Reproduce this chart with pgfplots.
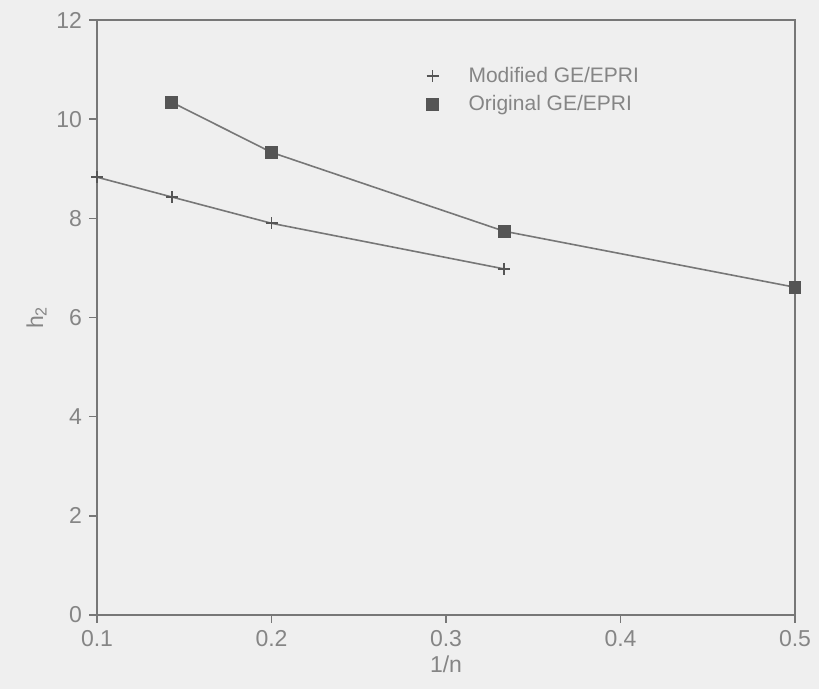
\documentclass[border=0pt]{standalone}
\usepackage{fontspec}
\setmainfont{Liberation Sans}
\usepackage{pgfplots}
\pgfplotsset{compat=1.18}
\definecolor{paper}{HTML}{EFEFEF}
\definecolor{ink}{HTML}{777777}
\definecolor{txt}{HTML}{858585}
\definecolor{markc}{HTML}{555555}
% legend shows the marker only, without the connecting line
\pgfplotsset{marklegend/.style={legend image code/.code={\draw[##1, only marks] plot coordinates {(0.2cm,0cm)};}}}
\begin{document}
\begin{tikzpicture}
\fill[paper] (-48.5pt,-37pt) rectangle (361pt,307.5pt);
\begin{axis}[
  at={(0,0)}, anchor=south west,
  scale only axis, width=349pt, height=297.5pt,
  xmin=0.1, xmax=0.5, ymin=0, ymax=12,
  xtick={0.1,0.2,0.3,0.4,0.5},
  ytick={0,2,4,6,8,10,12},
  xticklabel style={/pgf/number format/fixed, /pgf/number format/precision=1},
  /pgf/number format/assume math mode=true,
  tick pos=left, tick align=outside,
  major tick length=4pt,
  axis line style={ink, line width=0.7pt},
  every tick/.style={ink, line width=0.7pt},
  tick label style={txt, font=\fontsize{11.5}{13}\selectfont},
  label style={txt, font=\fontsize{11.5}{13}\selectfont},
  xlabel={1/n}, ylabel={h\textsubscript{2}},
  xlabel style={yshift=2pt},
  ylabel style={yshift=-2pt},
  legend style={draw=none, fill=none, at={(0.463,0.935)}, anchor=north west,
    font=\fontsize{10.5}{12}\selectfont, text=txt, row sep=1pt,
    /tikz/every odd column/.append style={column sep=13pt}},
  legend cell align=left,
]
\addplot[ink, line width=0.8pt, mark=+, mark size=3pt,
  mark options={markc, line width=0.8pt}, marklegend]
  coordinates {(0.1,8.83) (0.1429,8.43) (0.2,7.90) (0.3333,6.98)};
\addlegendentry{Modified GE/EPRI}
\addplot[ink, line width=0.8pt, mark=square*, mark size=2.8pt,
  mark options={markc, fill=markc}, marklegend]
  coordinates {(0.1429,10.34) (0.2,9.33) (0.3333,7.74) (0.5,6.61)};
\addlegendentry{Original GE/EPRI}
\end{axis}
\end{tikzpicture}
\end{document}
